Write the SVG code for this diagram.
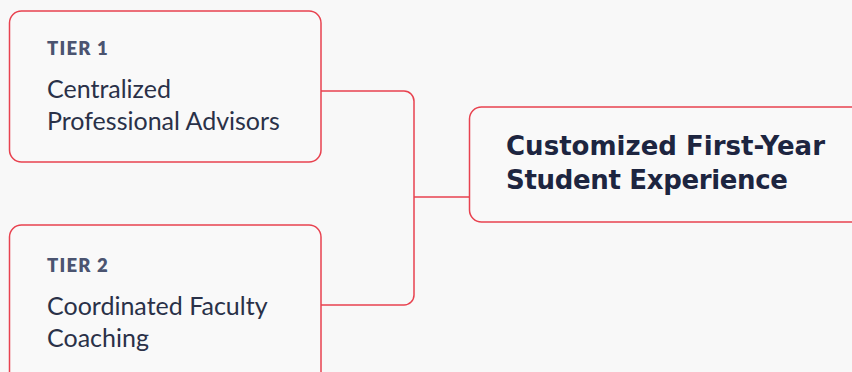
<svg xmlns="http://www.w3.org/2000/svg" width="852" height="372" viewBox="0 0 852 372">
<style>
.box{fill:#f9f9f9;stroke:#e8424f;stroke-width:1.5}
.conn{fill:none;stroke:#e8424f;stroke-width:1.5}
.tier{font-family:Lato,"Open Sans",sans-serif;font-weight:800;font-size:18.5px;letter-spacing:1.2px;fill:#4b5470}
.desc{font-family:Lato,"Open Sans",sans-serif;font-weight:400;font-size:25px;fill:#2a3148}
.title{font-family:"DejaVu Sans",Inter,sans-serif;font-weight:700;font-size:26px;fill:#1d2540}
</style>
<rect width="852" height="372" fill="#f8f8f8"/>
<g id="connectors">
<path class="conn" d="M321 91 H404 A10 10 0 0 1 414 101 V295 A10 10 0 0 1 404 305 H321"/>
<path class="conn" d="M414 197 H470"/>
</g>
<g id="tier1">
<rect class="box" x="9.5" y="11" width="311.5" height="151" rx="12"/>
<text class="tier" x="47" y="55">TIER 1</text>
<text class="desc" x="47" y="97.5">Centralized</text>
<text class="desc" x="47" y="129.5">Professional Advisors</text>
</g>
<g id="tier2">
<rect class="box" x="9.5" y="225" width="311.5" height="160" rx="12"/>
<text class="tier" x="47" y="272">TIER 2</text>
<text class="desc" x="47" y="314.5">Coordinated Faculty</text>
<text class="desc" x="47" y="346.5">Coaching</text>
</g>
<g id="outcome">
<rect class="box" x="469.5" y="107" width="400" height="115" rx="12"/>
<text class="title" x="506" y="155" textLength="319" lengthAdjust="spacing">Customized First-Year</text>
<text class="title" x="506" y="189" textLength="282" lengthAdjust="spacing">Student Experience</text>
</g>
</svg>
